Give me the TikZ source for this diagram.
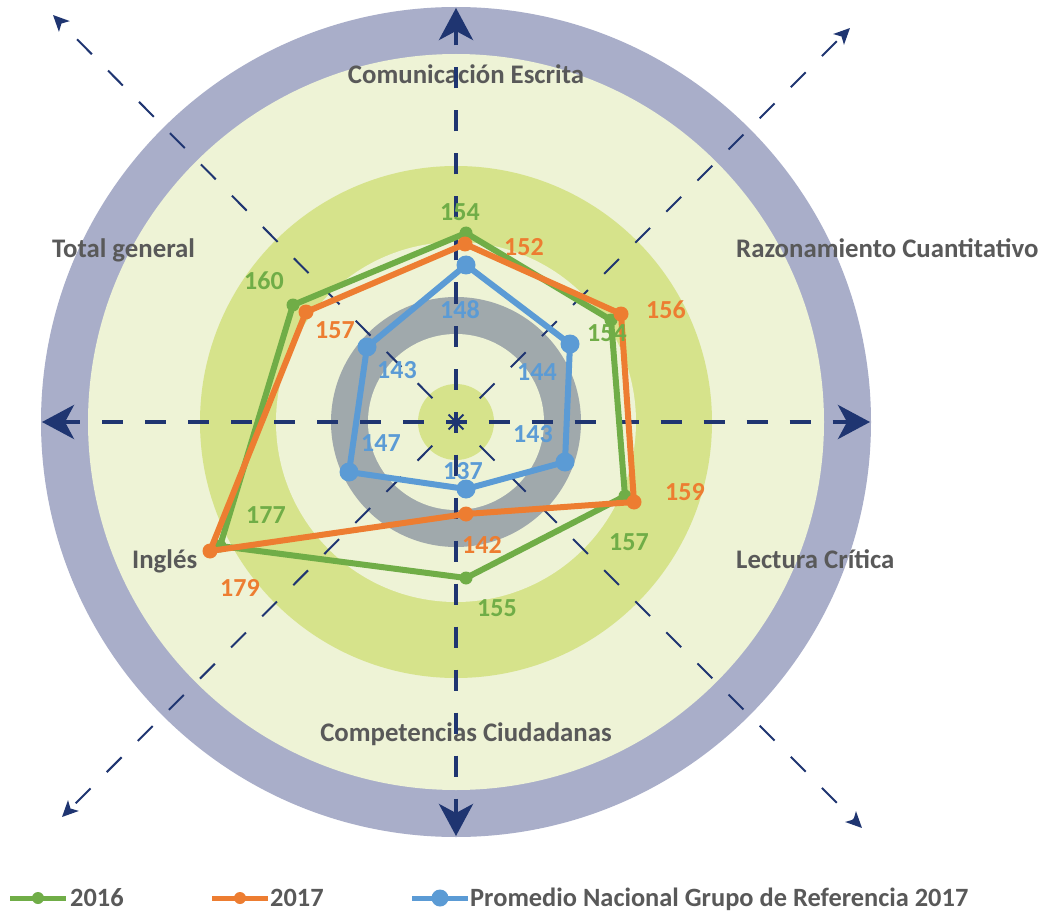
\documentclass[tikz,border=0pt]{standalone}
\usepackage{fontspec}
\setmainfont{Carlito}
\usetikzlibrary{arrows.meta}
\definecolor{ringc}{HTML}{A9AEC9}
\definecolor{lightc}{HTML}{EEF3D6}
\definecolor{bandc}{HTML}{D6E38B}
\definecolor{grayc}{HTML}{A0A9AC}
\definecolor{navyc}{HTML}{1F3571}
\definecolor{gser}{HTML}{70AD47}
\definecolor{oser}{HTML}{ED7D31}
\definecolor{bser}{HTML}{5B9BD5}
\definecolor{txtc}{HTML}{595959}
\tikzset{
  catlabel/.style={font=\fontsize{26.8}{30}\selectfont\bfseries, text=txtc, inner sep=0pt},
  legtext/.style={font=\fontsize{26.4}{30}\selectfont\bfseries, text=txtc, inner sep=0pt},
  vallabel/.style={font=\fontsize{26}{28}\selectfont\bfseries, inner sep=0pt, anchor=base},
  mainaxis/.style={draw=navyc, line width=4pt, dash pattern=on 21pt off 22pt, dash phase=10.5pt,
     -{Stealth[length=32pt, width=34pt, inset=9pt]}},
  diagaxis/.style={draw=navyc, line width=2pt, dash pattern=on 21pt off 23pt, dash phase=10.5pt,
     -{Stealth[length=16pt, width=15pt, inset=4pt]}},
  serline/.style={line width=6pt, line join=miter},
}
\begin{document}
\begin{tikzpicture}[x=1pt,y=-1pt]
\useasboundingbox (0,0) rectangle (1042,912);
\fill[white] (0,0) rectangle (1042,912);
\coordinate (C) at (456,422);
% background rings
\fill[ringc] (C) circle (415pt);
\fill[lightc] (C) circle (368pt);
\fill[bandc] (C) circle (256pt);
\fill[lightc] (C) circle (180pt);
\fill[grayc] (C) circle (125pt);
\fill[lightc] (C) circle (88pt);
\fill[bandc] (C) circle (38pt);
% category labels
\node[catlabel, anchor=base] (lce) at (466,83.5) {Comunicación Escrita};
\node[catlabel, anchor=base west] (lrc) at (736,257.5) {Razonamiento Cuantitativo};
\node[catlabel, anchor=base west] (ltg) at (52,257.5) {Total general};
\node[catlabel, anchor=base west] (llc) at (736,568.5) {Lectura Crítica};
\node[catlabel, anchor=base west] (lin) at (132,568.5) {Inglés};
\node[catlabel, anchor=base] (lcc) at (466,741.5) {Competencias Ciudadanas};
% axes
\coordinate (T) at (456,8);
\coordinate (B) at (456,836);
\coordinate (L) at (42,422);
\coordinate (R) at (870,422);
\coordinate (UL) at (53,15);
\coordinate (UR) at (850,28);
\coordinate (LL) at (62,817);
\coordinate (LR) at (862,828);
\draw[diagaxis] (C) -- (UL);
\draw[diagaxis] (C) -- (UR);
\draw[diagaxis] (C) -- (LL);
\draw[diagaxis] (C) -- (LR);
\draw[mainaxis] (C) -- (T);
\draw[mainaxis] (C) -- (B);
\draw[mainaxis] (C) -- (L);
\draw[mainaxis] (C) -- (R);
% data points
\coordinate (g1) at (466,233);
\coordinate (g2) at (611,320);
\coordinate (g3) at (625,496);
\coordinate (g4) at (466,578);
\coordinate (g5) at (220,546);
\coordinate (g6) at (293,305);
\coordinate (o1) at (465,244);
\coordinate (o2) at (621,314);
\coordinate (o3) at (634,502);
\coordinate (o4) at (466,514);
\coordinate (o5) at (210,551);
\coordinate (o6) at (306,312);
\coordinate (b1) at (466,265);
\coordinate (b2) at (570,344);
\coordinate (b3) at (565,462);
\coordinate (b4) at (466,489);
\coordinate (b5) at (349,472);
\coordinate (b6) at (367,347);
\draw[serline, gser] (g1) -- (g2) -- (g3) -- (g4) -- (g5) -- (g6) -- cycle;
\foreach \p in {g1,g2,g3,g4,g5,g6} \fill[gser] (\p) circle (6.5pt);
\draw[serline, oser] (o1) -- (o2) -- (o3) -- (o4) -- (o5) -- (o6) -- cycle;
\foreach \p in {o1,o2,o3,o4,o5,o6} \fill[oser] (\p) circle (7.5pt);
\draw[serline, bser] (b1) -- (b2) -- (b3) -- (b4) -- (b5) -- (b6) -- cycle;
\foreach \p in {b1,b2,b3,b4,b5,b6} \fill[bser] (\p) circle (9.5pt);
% value labels
\node[vallabel, text=gser] (vg1) at (460,220.2) {154};
\node[vallabel, text=oser] (vo1) at (524,255.2) {152};
\node[vallabel, text=bser] (vb1) at (460,318.2) {148};
\node[vallabel, text=gser] (vg6) at (264,289.2) {160};
\node[vallabel, text=oser] (vo6) at (335,338.2) {157};
\node[vallabel, text=bser] (vb6) at (397,378.2) {143};
\node[vallabel, text=oser] (vo2) at (666,318.2) {156};
\node[vallabel, text=gser] (vg2) at (607,341.2) {154};
\node[vallabel, text=bser] (vb2) at (537,380.2) {144};
\node[vallabel, text=bser] (vb3) at (533,442.2) {143};
\node[vallabel, text=oser] (vo3) at (685,500.2) {159};
\node[vallabel, text=gser] (vg3) at (629,550.2) {157};
\node[vallabel, text=bser] (vb4) at (463,479.2) {137};
\node[vallabel, text=oser] (vo4) at (482,553.2) {142};
\node[vallabel, text=gser] (vg4) at (497,616.2) {155};
\node[vallabel, text=bser] (vb5) at (381,451.2) {147};
\node[vallabel, text=gser] (vg5) at (266,523.2) {177};
\node[vallabel, text=oser] (vo5) at (240,596.2) {179};
% legend
\coordinate (lg1) at (10,898); \coordinate (lg2) at (66,898); \coordinate (lgd) at (38,898);
\coordinate (lo1) at (212,898); \coordinate (lo2) at (268,898); \coordinate (lod) at (240,898);
\coordinate (lb1) at (412,898); \coordinate (lb2) at (468,898); \coordinate (lbd) at (440,898);
\draw[line width=5pt, gser] (lg1) -- (lg2); \fill[gser] (lgd) circle (6pt);
\draw[line width=5pt, oser] (lo1) -- (lo2); \fill[oser] (lod) circle (6pt);
\draw[line width=5pt, bser] (lb1) -- (lb2); \fill[bser] (lbd) circle (8.5pt);
\node[legtext, anchor=base west] (tg) at (70,906.5) {2016};
\node[legtext, anchor=base west] (to) at (270,906.5) {2017};
\node[legtext, anchor=base west] (tb) at (470,906.5) {Promedio Nacional Grupo de Referencia 2017};
\end{tikzpicture}
\end{document}
